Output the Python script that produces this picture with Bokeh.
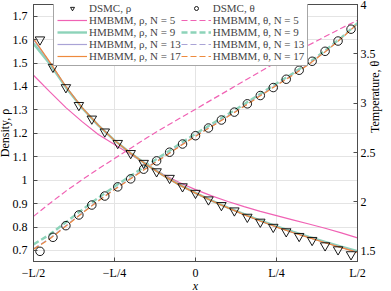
import math
from bokeh.plotting import figure
from bokeh.models import Range1d, LinearAxis, FixedTicker, Legend, LegendItem, CustomJSTickFormatter
from bokeh.embed import file_html
from bokeh.resources import INLINE

# ---- data -------------------------------------------------------------
x_line = [-0.50, -0.45, -0.40, -0.35, -0.30, -0.25, -0.20, -0.15, -0.10, -0.05,
          0.00, 0.05, 0.10, 0.15, 0.20, 0.25, 0.30, 0.35, 0.40, 0.45, 0.50]

rho_N5 = [1.448, 1.378, 1.310, 1.250, 1.195, 1.152, 1.110, 1.067, 1.025, 0.990,
          0.960, 0.933, 0.909, 0.887, 0.867, 0.849, 0.831, 0.813, 0.795, 0.775, 0.754]
rho_N9 = [1.583, 1.497, 1.396, 1.308, 1.234, 1.170, 1.115, 1.066, 1.021, 0.981,
          0.946, 0.913, 0.883, 0.855, 0.828, 0.803, 0.780, 0.758, 0.737, 0.716, 0.697]
rho_N13 = [1.600, 1.503, 1.399, 1.310, 1.235, 1.170, 1.115, 1.065, 1.020, 0.980,
           0.945, 0.912, 0.882, 0.853, 0.826, 0.801, 0.778, 0.756, 0.734, 0.713, 0.693]
rho_N17 = [1.605, 1.505, 1.400, 1.310, 1.235, 1.170, 1.115, 1.065, 1.020, 0.980,
           0.945, 0.912, 0.882, 0.853, 0.826, 0.800, 0.777, 0.755, 0.733, 0.712, 0.692]

theta_N5 = [1.854, 1.985, 2.110, 2.225, 2.335, 2.440, 2.545, 2.650, 2.750, 2.845,
            2.940, 3.035, 3.130, 3.225, 3.320, 3.415, 3.505, 3.590, 3.675, 3.760, 3.840]
theta_N9 = [1.570, 1.670, 1.795, 1.920, 2.043, 2.156, 2.265, 2.373, 2.477, 2.585,
            2.690, 2.789, 2.888, 2.990, 3.095, 3.199, 3.302, 3.410, 3.533, 3.665, 3.810]
theta_N13 = [1.525, 1.630, 1.760, 1.890, 2.015, 2.130, 2.240, 2.350, 2.455, 2.565,
             2.670, 2.770, 2.870, 2.973, 3.080, 3.185, 3.290, 3.400, 3.522, 3.657, 3.806]
theta_N17 = [1.520, 1.625, 1.755, 1.885, 2.010, 2.125, 2.235, 2.345, 2.450, 2.560,
             2.665, 2.765, 2.865, 2.968, 3.075, 3.180, 3.285, 3.395, 3.520, 3.655, 3.805]

x_dsmc = [-0.48, -0.44, -0.40, -0.36, -0.32, -0.28, -0.24, -0.20, -0.16, -0.12, -0.08, -0.04,
          0.00, 0.04, 0.08, 0.12, 0.16, 0.20, 0.24, 0.28, 0.32, 0.36, 0.40, 0.44, 0.48]
rho_dsmc = [1.600, 1.483, 1.396, 1.320, 1.262, 1.207, 1.158, 1.115, 1.073, 1.037, 1.009, 0.973,
            0.945, 0.917, 0.893, 0.870, 0.843, 0.822, 0.800, 0.781, 0.761, 0.744, 0.721, 0.704, 0.683]
theta_dsmc = [1.500, 1.642, 1.760, 1.868, 1.969, 2.060, 2.153, 2.234, 2.332, 2.416, 2.504, 2.587,
              2.671, 2.749, 2.830, 2.910, 2.994, 3.078, 3.159, 3.243, 3.334, 3.425, 3.526, 3.630, 3.750]

x_ticks = [-0.5, -0.25, 0.0, 0.25, 0.5]
x_tick_labels = ["\u2212L/2", "\u2212L/4", "0", "L/4", "L/2"]
rho_ticks = [0.7, 0.8, 0.9, 1.0, 1.1, 1.2, 1.3, 1.4, 1.5, 1.6, 1.7]
theta_ticks = [1.5, 2.0, 2.5, 3.0, 3.5, 4.0]

labels_N = ["5", "9", "13", "17"]

# ---- styles -----------------------------------------------------------
colors = ["#f062b4", "#8dd3b9", "#a9a3d6", "#ee8a3d"]
widths = [1.2, 2.4, 1.2, 1.2]
FONT = "Liberation Serif"
AX = "#4d4d4d"

p = figure(width=397, height=295, x_range=Range1d(-0.5, 0.5), y_range=Range1d(0.653, 1.75),
           output_backend="svg", toolbar_location=None,
           min_border_left=38, min_border_right=34, min_border_top=4, min_border_bottom=33)
p.margin = (0, 0, -4, -6)
p.extra_y_ranges = {"theta": Range1d(1.397, 4.0)}
p.background_fill_color = "white"
p.border_fill_color = "white"
p.outline_line_color = AX

fmt = CustomJSTickFormatter(code="return String(Math.round(tick*10)/10);")

def style_axis(ax):
    ax.axis_line_color = AX
    ax.major_tick_line_color = AX
    ax.major_tick_in = 4
    ax.major_tick_out = 0
    ax.minor_tick_line_color = None
    ax.major_label_text_font = FONT
    ax.major_label_text_font_size = "12px"
    ax.major_label_text_color = "black"
    ax.axis_label_text_font = FONT
    ax.axis_label_text_font_size = "12px"
    ax.axis_label_text_font_style = "normal"
    ax.axis_label_text_color = "black"

xa = p.xaxis[0]
style_axis(xa)
xa.ticker = FixedTicker(ticks=x_ticks)
xa.major_label_overrides = {t: l for t, l in zip(x_ticks, x_tick_labels)}
xa.axis_label = "x"
xa.axis_label_text_font_style = "italic"
xa.major_label_standoff = 4
xa.axis_label_standoff = -4

ya = p.yaxis[0]
style_axis(ya)
ya.ticker = FixedTicker(ticks=rho_ticks)
ya.formatter = fmt
ya.axis_label = "Density, \u03c1"
ya.major_label_standoff = 6
ya.axis_label_standoff = -2

ra = LinearAxis(y_range_name="theta")
style_axis(ra)
ra.ticker = FixedTicker(ticks=theta_ticks)
ra.formatter = fmt
ra.axis_label = "Temperature, \u03b8"
ra.axis_label_orientation = math.pi / 2
ra.major_label_standoff = 3
ra.axis_label_standoff = -4
p.add_layout(ra, "right")

ta = LinearAxis()
style_axis(ta)
ta.ticker = FixedTicker(ticks=x_ticks)
ta.formatter = CustomJSTickFormatter(code="return '';")
ta.major_label_standoff = 0
p.add_layout(ta, "above")

p.xgrid.ticker = FixedTicker(ticks=x_ticks)
p.ygrid.ticker = FixedTicker(ticks=rho_ticks)
p.xgrid.grid_line_color = "#e4e4e4"
p.ygrid.grid_line_color = "#e4e4e4"

# ---- glyphs -----------------------------------------------------------
rho_series = [rho_N5, rho_N9, rho_N13, rho_N17]
theta_series = [theta_N5, theta_N9, theta_N13, theta_N17]

rho_r = []
theta_r = []
for i in range(4):
    theta_r.append(p.line(x_line, theta_series[i], y_range_name="theta", line_color=colors[i],
                          line_width=widths[i], line_dash="6 3"))
for i in range(4):
    rho_r.append(p.line(x_line, rho_series[i], line_color=colors[i], line_width=widths[i]))

tri = p.scatter(x_dsmc, rho_dsmc, marker="inverted_triangle", size=9.5, fill_color=None,
                line_color="black", line_width=0.9)
circ = p.scatter(x_dsmc, theta_dsmc, y_range_name="theta", marker="circle", size=8.5,
                 fill_color=None, line_color="black", line_width=0.9)

items = [LegendItem(label="DSMC, \u03c1", renderers=[tri])]
items += [LegendItem(label="HMBMM, \u03c1, N = " + labels_N[i], renderers=[rho_r[i]]) for i in range(4)]
items += [LegendItem(label="DSMC, \u03b8", renderers=[circ])]
items += [LegendItem(label="HMBMM, \u03b8, N = " + labels_N[i], renderers=[theta_r[i]]) for i in range(4)]

leg = Legend(items=items, location=(20, 195), ncols=2)
leg.label_text_font = FONT
leg.label_text_font_size = "11px"
leg.glyph_width = 30
leg.glyph_height = 10
leg.label_height = 10
leg.label_standoff = 2
leg.spacing = -1
leg.padding = 3
leg.margin = 0
leg.border_line_color = AX
leg.border_line_width = 1
leg.background_fill_alpha = 1
p.add_layout(leg)

open("out.html", "w").write(file_html(p, INLINE))
